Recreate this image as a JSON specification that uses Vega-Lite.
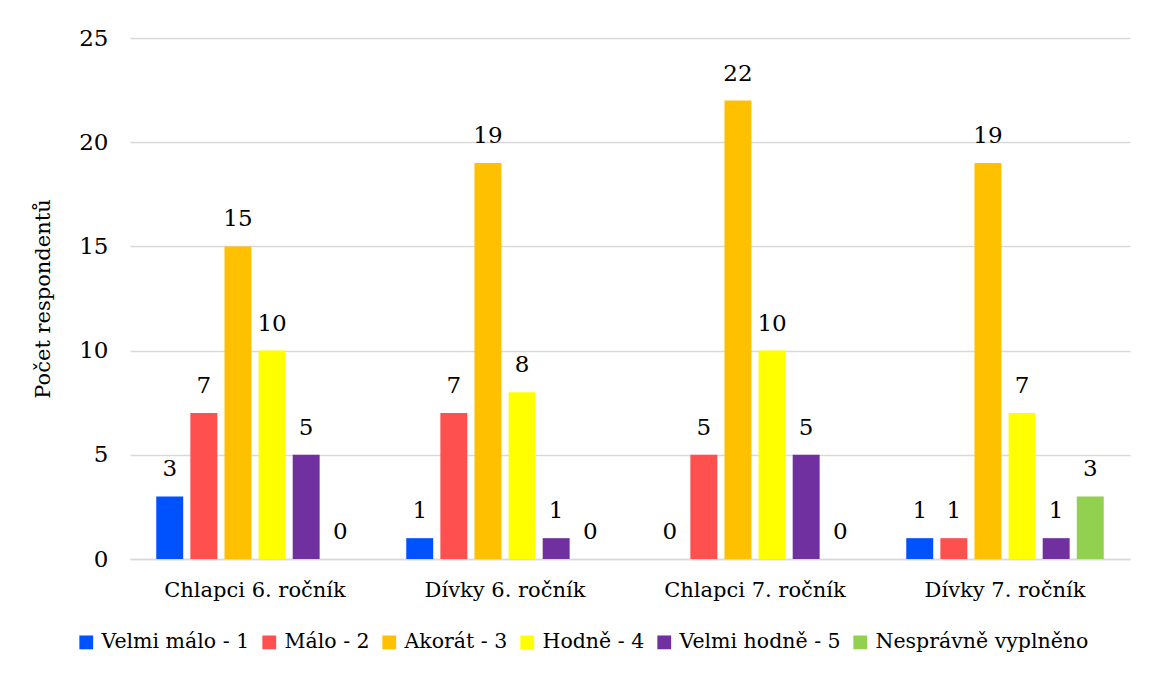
{
  "$schema": "https://vega.github.io/schema/vega-lite/v6.json",
  "width": 1000,
  "height": 521,
  "autosize": {"type": "none"},
  "padding": {"left": 130, "top": 38, "right": 20, "bottom": 118},
  "background": "white",
  "data": {"values": [
    {"skupina": "Chlapci 6. ročník", "odpoved": "Velmi málo - 1", "pocet": 3},
    {"skupina": "Chlapci 6. ročník", "odpoved": "Málo - 2", "pocet": 7},
    {"skupina": "Chlapci 6. ročník", "odpoved": "Akorát - 3", "pocet": 15},
    {"skupina": "Chlapci 6. ročník", "odpoved": "Hodně - 4", "pocet": 10},
    {"skupina": "Chlapci 6. ročník", "odpoved": "Velmi hodně - 5", "pocet": 5},
    {"skupina": "Chlapci 6. ročník", "odpoved": "Nesprávně vyplněno", "pocet": 0},
    {"skupina": "Dívky 6. ročník", "odpoved": "Velmi málo - 1", "pocet": 1},
    {"skupina": "Dívky 6. ročník", "odpoved": "Málo - 2", "pocet": 7},
    {"skupina": "Dívky 6. ročník", "odpoved": "Akorát - 3", "pocet": 19},
    {"skupina": "Dívky 6. ročník", "odpoved": "Hodně - 4", "pocet": 8},
    {"skupina": "Dívky 6. ročník", "odpoved": "Velmi hodně - 5", "pocet": 1},
    {"skupina": "Dívky 6. ročník", "odpoved": "Nesprávně vyplněno", "pocet": 0},
    {"skupina": "Chlapci 7. ročník", "odpoved": "Velmi málo - 1", "pocet": 0},
    {"skupina": "Chlapci 7. ročník", "odpoved": "Málo - 2", "pocet": 5},
    {"skupina": "Chlapci 7. ročník", "odpoved": "Akorát - 3", "pocet": 22},
    {"skupina": "Chlapci 7. ročník", "odpoved": "Hodně - 4", "pocet": 10},
    {"skupina": "Chlapci 7. ročník", "odpoved": "Velmi hodně - 5", "pocet": 5},
    {"skupina": "Chlapci 7. ročník", "odpoved": "Nesprávně vyplněno", "pocet": 0},
    {"skupina": "Dívky 7. ročník", "odpoved": "Velmi málo - 1", "pocet": 1},
    {"skupina": "Dívky 7. ročník", "odpoved": "Málo - 2", "pocet": 1},
    {"skupina": "Dívky 7. ročník", "odpoved": "Akorát - 3", "pocet": 19},
    {"skupina": "Dívky 7. ročník", "odpoved": "Hodně - 4", "pocet": 7},
    {"skupina": "Dívky 7. ročník", "odpoved": "Velmi hodně - 5", "pocet": 1},
    {"skupina": "Dívky 7. ročník", "odpoved": "Nesprávně vyplněno", "pocet": 3}
  ]},
  "encoding": {
    "x": {
      "field": "skupina", "type": "nominal", "sort": null,
      "scale": {"paddingInner": 0.21, "paddingOuter": 0.105},
      "axis": {"title": null, "labelAngle": 0, "ticks": false, "domainColor": "#d9d9d9", "domainWidth": 1.5, "labelPadding": 20, "labelFontSize": 21, "labelFont": "DejaVu Serif", "labelLimit": 300}
    },
    "xOffset": {
      "field": "odpoved", "type": "nominal", "sort": null,
      "scale": {"paddingInner": 0.21, "paddingOuter": 0.0}
    },
    "y": {
      "field": "pocet", "type": "quantitative",
      "scale": {"domain": [0, 25], "nice": false},
      "axis": {"title": "Počet respondentů", "values": [0, 5, 10, 15, 20, 25], "domain": false, "ticks": false, "grid": true, "gridColor": "#d9d9d9", "gridWidth": 1.5, "labelPadding": 22, "labelFontSize": 23, "labelFont": "DejaVu Serif", "titleFont": "DejaVu Serif", "titleFontSize": 21, "titleFontWeight": "normal", "titlePadding": 25}
    }
  },
  "layer": [
    {
      "mark": {"type": "bar"},
      "encoding": {
        "color": {
          "field": "odpoved", "type": "nominal", "sort": null,
          "scale": {
            "domain": ["Velmi málo - 1", "Málo - 2", "Akorát - 3", "Hodně - 4", "Velmi hodně - 5", "Nesprávně vyplněno"],
            "range": ["#0051ff", "#ff5050", "#ffc000", "#ffff00", "#7030a0", "#92d050"]
          },
          "legend": {
            "title": null, "orient": "none", "legendX": -54, "legendY": 594, "direction": "horizontal", "symbolType": "square", "symbolSize": 190, "symbolStrokeWidth": 0,
            "labelFontSize": 20.5, "labelFont": "DejaVu Serif", "columnPadding": 9, "labelOffset": 5, "labelLimit": 400
          }
        }
      }
    },
    {
      "mark": {"type": "text", "baseline": "bottom", "dy": -15, "fontSize": 23, "font": "DejaVu Serif"},
      "encoding": {"text": {"field": "pocet", "type": "quantitative"}}
    }
  ],
  "config": {
    "view": {"stroke": null},
    "axis": {"labelColor": "#000000", "titleColor": "#000000"},
    "legend": {"labelColor": "#000000"},
    "text": {"color": "#000000"}
  }
}
